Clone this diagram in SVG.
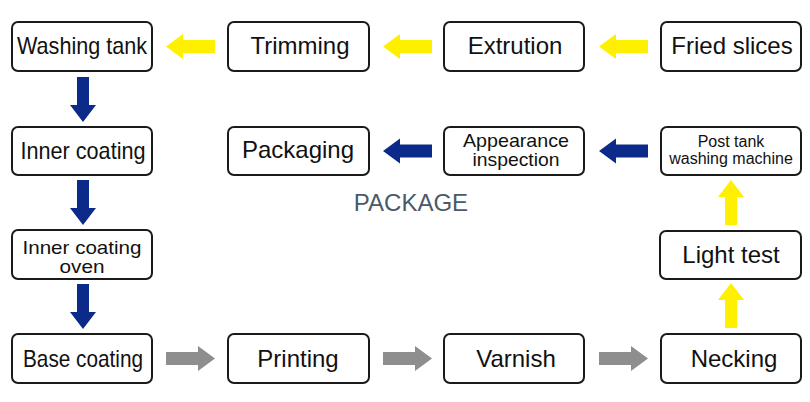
<svg xmlns="http://www.w3.org/2000/svg" xmlns:xlink="http://www.w3.org/1999/xlink" width="810" height="402" viewBox="0 0 810 402">
<defs>
<style>
.box{fill:#fff;stroke:#1a1a1a;stroke-width:2}
.t{font-family:"Liberation Sans",Arial,sans-serif;fill:#111;text-anchor:middle}
.l{font-size:24px}
.m{font-size:18.5px}
.s{font-size:16px}
.yel{fill:#fff000}
.blu{fill:#0c2a8a}
.gry{fill:#8e8e8e}
</style>
<path id="ah" d="M0,-6.5 H32 V-12.5 L49,0 L32,12.5 V6.5 H0 Z"/>
<path id="av" d="M-6,0 V28 H-13 L0,45 L13,28 H6 V0 Z"/>
</defs>
<rect width="810" height="402" fill="#fff"/>
<g id="connectors">
<use href="#ah" class="yel" transform="translate(215,46.5) rotate(180)"/>
<use href="#ah" class="yel" transform="translate(432,46.5) rotate(180)"/>
<use href="#ah" class="yel" transform="translate(648,46.5) rotate(180)"/>
<use href="#ah" class="blu" transform="translate(432,151) rotate(180)"/>
<use href="#ah" class="blu" transform="translate(648,151) rotate(180)"/>
<use href="#ah" class="gry" transform="translate(166,358.5)"/>
<use href="#ah" class="gry" transform="translate(383,358.5)"/>
<use href="#ah" class="gry" transform="translate(599,358.5)"/>
<use href="#av" class="blu" transform="translate(83,77)"/>
<use href="#av" class="blu" transform="translate(83,180)"/>
<use href="#av" class="blu" transform="translate(83,284)"/>
<use href="#av" class="yel" transform="translate(731,328) rotate(180)"/>
<use href="#av" class="yel" transform="translate(731,225) rotate(180)"/>
</g>
<g id="washing-tank"><rect class="box" x="12" y="22" width="140" height="49" rx="6"/><text class="t l" x="82" y="54" textLength="130" lengthAdjust="spacingAndGlyphs">Washing tank</text></g>
<g id="trimming"><rect class="box" x="228" y="22" width="141" height="49" rx="6"/><text class="t l" x="300" y="54">Trimming</text></g>
<g id="extrution"><rect class="box" x="444" y="22" width="140" height="49" rx="6"/><text class="t l" x="515" y="54">Extrution</text></g>
<g id="fried-slices"><rect class="box" x="661" y="22" width="140" height="49" rx="6"/><text class="t l" x="732" y="54">Fried slices</text></g>
<g id="inner-coating"><rect class="box" x="12" y="127" width="140" height="48" rx="6"/><text class="t l" x="83" y="159" textLength="125" lengthAdjust="spacingAndGlyphs">Inner coating</text></g>
<g id="packaging"><rect class="box" x="228" y="127" width="141" height="48" rx="6"/><text class="t l" x="298" y="158">Packaging</text></g>
<g id="appearance-inspection"><rect class="box" x="444" y="127" width="140" height="48" rx="6"/><text class="t m" x="516" y="146.5" textLength="106" lengthAdjust="spacingAndGlyphs">Appearance</text><text class="t m" x="516" y="166" textLength="87" lengthAdjust="spacingAndGlyphs">inspection</text></g>
<g id="post-tank"><rect class="box" x="661" y="127" width="140" height="48" rx="6"/><text class="t s" x="731" y="147">Post tank</text><text class="t s" x="731" y="164">washing machine</text></g>
<g id="inner-coating-oven"><rect class="box" x="12" y="230" width="140" height="49" rx="6"/><text class="t m" x="82" y="253.5" textLength="119" lengthAdjust="spacingAndGlyphs">Inner coating</text><text class="t m" x="82" y="273" textLength="45" lengthAdjust="spacingAndGlyphs">oven</text></g>
<g id="light-test"><rect class="box" x="660" y="231" width="141" height="48" rx="6"/><text class="t l" x="731" y="263">Light test</text></g>
<g id="base-coating"><rect class="box" x="12" y="334" width="140" height="49" rx="6"/><text class="t l" x="83" y="367" textLength="120" lengthAdjust="spacingAndGlyphs">Base coating</text></g>
<g id="printing"><rect class="box" x="228" y="334" width="141" height="49" rx="6"/><text class="t l" x="298" y="367">Printing</text></g>
<g id="varnish"><rect class="box" x="444" y="334" width="140" height="49" rx="6"/><text class="t l" x="516" y="367">Varnish</text></g>
<g id="necking"><rect class="box" x="661" y="334" width="140" height="49" rx="6"/><text class="t l" x="734" y="367">Necking</text></g>
<text x="411" y="211" font-family="Liberation Sans,Arial,sans-serif" font-size="24" fill="#4a5a68" text-anchor="middle">PACKAGE</text>
</svg>
